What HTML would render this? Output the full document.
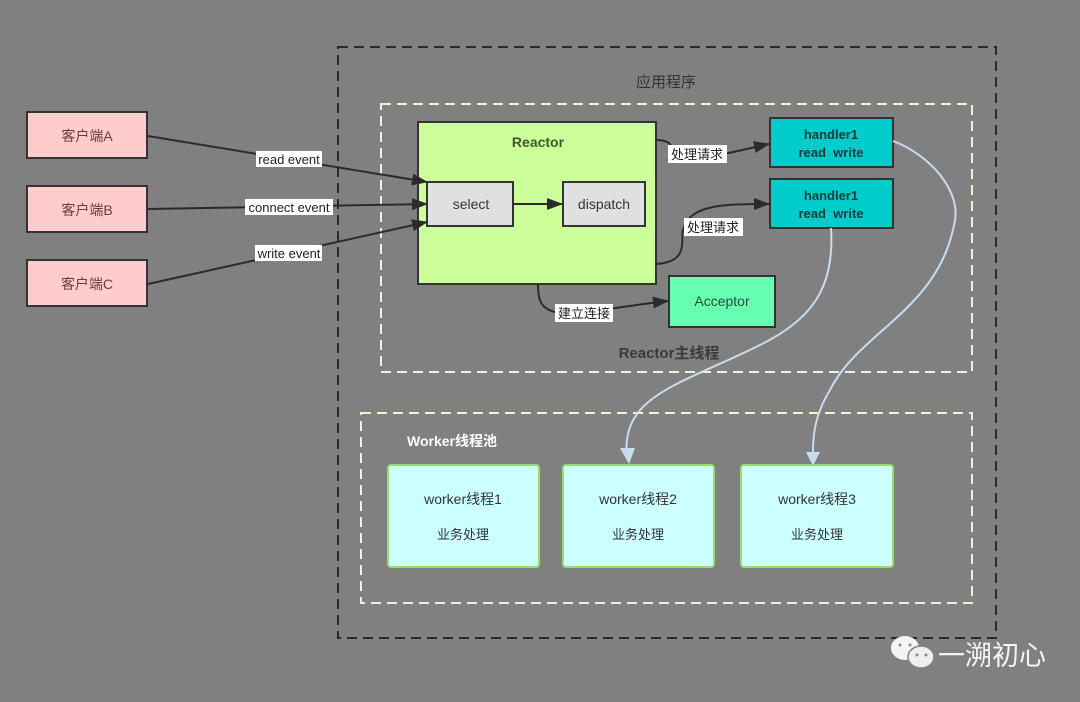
<!DOCTYPE html>
<html><head><meta charset="utf-8"><style>
html,body{margin:0;padding:0;background:#808080;}
svg{display:block;}
text{font-family:"Liberation Sans","Noto Sans CJK SC",sans-serif;}
</style></head><body>
<svg width="1080" height="702" viewBox="0 0 1080 702" xmlns="http://www.w3.org/2000/svg">
<defs>
<marker id="ah" markerWidth="16" markerHeight="12" refX="15" refY="6" orient="auto" markerUnits="userSpaceOnUse"><path d="M0,0 L16,6 L0,12 Z" fill="#2b2b2b"/></marker>
</defs>
<rect width="1080" height="702" fill="#808080"/>
<rect x="338" y="47" width="658" height="591" fill="none" stroke="#2a2a2a" stroke-width="2" stroke-dasharray="10,6"/>
<text x="666" y="87" font-size="15" fill="#333" text-anchor="middle">应用程序</text>
<rect x="381" y="104" width="591" height="268" fill="none" stroke="#f0f0d8" stroke-width="2" stroke-dasharray="10,6"/>
<text x="669" y="358" font-size="15" font-weight="bold" fill="#3a3a3a" text-anchor="middle">Reactor主线程</text>
<rect x="361" y="413" width="611" height="190" fill="none" stroke="#f0f0d8" stroke-width="2" stroke-dasharray="10,6"/>
<text x="407" y="446" font-size="14" font-weight="bold" fill="#fff">Worker线程池</text>

<g font-size="14" fill="#6a3a3a" text-anchor="middle">
<rect x="27" y="112" width="120" height="46" fill="#ffcccc" stroke="#333" stroke-width="2"/>
<text x="87" y="141">客户端A</text>
<rect x="27" y="186" width="120" height="46" fill="#ffcccc" stroke="#333" stroke-width="2"/>
<text x="87" y="215">客户端B</text>
<rect x="27" y="260" width="120" height="46" fill="#ffcccc" stroke="#333" stroke-width="2"/>
<text x="87" y="289">客户端C</text>
</g>

<rect x="418" y="122" width="238" height="162" fill="#ccff99" stroke="#333" stroke-width="2"/>
<text x="538" y="147" font-size="14" font-weight="bold" fill="#3a5a2a" text-anchor="middle">Reactor</text>
<rect x="427" y="182" width="86" height="44" fill="#e0e0e0" stroke="#333" stroke-width="2"/>
<text x="471" y="209" font-size="14" fill="#333" text-anchor="middle">select</text>
<rect x="563" y="182" width="82" height="44" fill="#e0e0e0" stroke="#333" stroke-width="2"/>
<text x="604" y="209" font-size="14" fill="#333" text-anchor="middle">dispatch</text>
<line x1="513" y1="204" x2="562" y2="204" stroke="#2b2b2b" stroke-width="2" marker-end="url(#ah)"/>

<line x1="148" y1="136" x2="427" y2="182" stroke="#2b2b2b" stroke-width="2" marker-end="url(#ah)"/>
<line x1="148" y1="209" x2="427" y2="204" stroke="#2b2b2b" stroke-width="2" marker-end="url(#ah)"/>
<line x1="148" y1="284" x2="427" y2="222" stroke="#2b2b2b" stroke-width="2" marker-end="url(#ah)"/>
<rect x="256" y="151" width="66" height="16" fill="#fff"/>
<text x="289" y="164" font-size="13" fill="#222" text-anchor="middle">read event</text>
<rect x="245" y="199" width="88" height="16" fill="#fff"/>
<text x="289" y="212" font-size="13" fill="#222" text-anchor="middle">connect event</text>
<rect x="255" y="245" width="67" height="16" fill="#fff"/>
<text x="289" y="258" font-size="13" fill="#222" text-anchor="middle">write event</text>

<rect x="770" y="118" width="123" height="49" fill="#00cccc" stroke="#333" stroke-width="2"/>
<text x="831" y="139" font-size="13" font-weight="bold" fill="#1a3a3a" text-anchor="middle">handler1</text>
<text x="831" y="157" font-size="13" font-weight="bold" fill="#1a3a3a" text-anchor="middle">read&#160;&#160;write</text>
<rect x="770" y="179" width="123" height="49" fill="#00cccc" stroke="#333" stroke-width="2"/>
<text x="831" y="200" font-size="13" font-weight="bold" fill="#1a3a3a" text-anchor="middle">handler1</text>
<text x="831" y="218" font-size="13" font-weight="bold" fill="#1a3a3a" text-anchor="middle">read&#160;&#160;write</text>

<path d="M656,140 C675,140 670,150 680,156 C700,162 740,150 769,144" fill="none" stroke="#2b2b2b" stroke-width="2" marker-end="url(#ah)"/>
<path d="M656,264 C690,262 680,240 683,230 C690,205 720,204 769,204" fill="none" stroke="#2b2b2b" stroke-width="2" marker-end="url(#ah)"/>
<rect x="668" y="145" width="59" height="18" fill="#fff"/>
<text x="697" y="159" font-size="13" fill="#222" text-anchor="middle" font-family="Noto Serif CJK SC,serif">处理请求</text>
<rect x="684" y="218" width="59" height="18" fill="#fff"/>
<text x="713" y="232" font-size="13" fill="#222" text-anchor="middle" font-family="Noto Serif CJK SC,serif">处理请求</text>

<rect x="669" y="276" width="106" height="51" fill="#66ffb2" stroke="#333" stroke-width="2"/>
<text x="722" y="306" font-size="14" fill="#2a4a3a" text-anchor="middle">Acceptor</text>
<path d="M538,284 C538,300 540,310 560,313 C600,312 630,305 668,301" fill="none" stroke="#2b2b2b" stroke-width="2" marker-end="url(#ah)"/>
<rect x="555" y="304" width="58" height="18" fill="#fff"/>
<text x="584" y="318" font-size="13" fill="#222" text-anchor="middle" font-family="Noto Serif CJK SC,serif">建立连接</text>

<path d="M893,141 C930,155 960,190 955,220 C940,310 860,330 830,390 C812,420 813,440 813,462" fill="none" stroke="#c8dcf0" stroke-width="2"/>
<path d="M806,452 L813,466 L820,452 Z" fill="#c8dcf0"/>
<path d="M831,228 C835,290 810,320 760,345 C680,385 620,395 627,458" fill="none" stroke="#c8dcf0" stroke-width="2"/>
<path d="M620,448 L629,464 L635,448 Z" fill="#c8dcf0"/>

<g font-size="14" fill="#333" text-anchor="middle">
<rect x="388" y="465" width="151" height="102" rx="3" fill="#ccffff" stroke="#99dd66" stroke-width="2"/>
<text x="463" y="504">worker线程1</text>
<text x="463" y="539" font-size="13">业务处理</text>
<rect x="563" y="465" width="151" height="102" rx="3" fill="#ccffff" stroke="#99dd66" stroke-width="2"/>
<text x="638" y="504">worker线程2</text>
<text x="638" y="539" font-size="13">业务处理</text>
<rect x="741" y="465" width="152" height="102" rx="3" fill="#ccffff" stroke="#99dd66" stroke-width="2"/>
<text x="817" y="504">worker线程3</text>
<text x="817" y="539" font-size="13">业务处理</text>
</g>

<ellipse cx="905" cy="648" rx="14" ry="12" fill="#f4f4f4"/>
<ellipse cx="921" cy="657" rx="13" ry="11" fill="#eeeeee" stroke="#808080" stroke-width="1.5"/>
<circle cx="900" cy="645" r="1.5" fill="#888"/><circle cx="910" cy="645" r="1.5" fill="#888"/>
<circle cx="917" cy="655" r="1.5" fill="#888"/><circle cx="926" cy="655" r="1.5" fill="#888"/>
<text x="938" y="665" font-size="27" fill="#f4f4f4">一溯初心</text>
</svg>
</body></html>
